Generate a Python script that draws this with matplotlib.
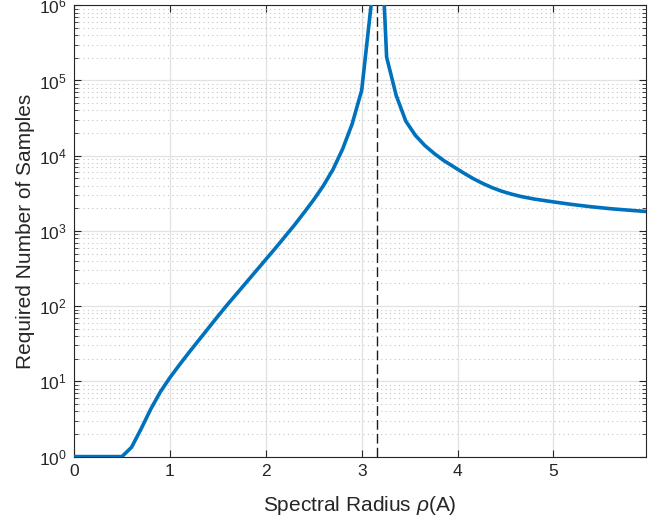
import numpy as np
import matplotlib
matplotlib.use("Agg")
import matplotlib.pyplot as plt
from matplotlib.ticker import LogLocator, NullFormatter, FixedLocator

# values (x = spectral radius, y = samples)
rho_left = [0.0, 0.1, 0.2, 0.3, 0.4, 0.5, 0.6, 0.7, 0.8, 0.9, 1.0, 1.1, 1.2, 1.3,
            1.4, 1.5, 1.6, 1.7, 1.8, 1.9, 2.0, 2.1, 2.2, 2.3, 2.4, 2.5, 2.6, 2.7,
            2.8, 2.9, 3.0, 3.1]
n_left = [1, 1, 1, 1, 1, 1, 1.33, 2.34, 4.27, 7.24, 11.2, 16.6, 24.3, 35.1,
          50.7, 73.3, 105, 148, 209, 295, 417, 589, 841, 1202, 1758, 2600, 3981, 6531,
          12160, 26300, 74100, 1.05e6]
rho_right = [3.2, 3.26, 3.36, 3.46, 3.56, 3.66, 3.76, 3.86, 3.96, 4.06, 4.16, 4.26,
             4.36, 4.46, 4.56, 4.66, 4.8, 5.0, 5.2, 5.4, 5.6, 5.8, 5.97]
n_right = [1e7, 2.04e5, 63100, 28800, 18600, 13600, 10600, 8550, 7110, 5920, 4980, 4290,
           3760, 3370, 3090, 2870, 2650, 2430, 2240, 2090, 1970, 1880, 1810]
rho_crit = np.sqrt(10)

plt.rcParams['font.family'] = ['Liberation Sans', 'DejaVu Sans']
plt.rcParams['mathtext.fontset'] = 'custom'
plt.rcParams['mathtext.rm'] = 'Liberation Sans'
plt.rcParams['mathtext.it'] = 'Liberation Sans:italic'

txt = '#262626'
fig = plt.figure(figsize=(6.55, 5.23), dpi=100)
ax = fig.add_axes([0.113, 0.127, 0.874, 0.863])

rho = rho_left + rho_right
n = n_left + n_right
ax.plot(rho, n, color='#0072BD', lw=2.6, zorder=3)
ax.axvline(rho_crit, color='#1a1a1a', lw=1.0, dashes=(7, 3), zorder=2)

ax.set_yscale('log')
ax.set_xlim(0, 5.97)
ax.set_ylim(1, 1e6)
ax.xaxis.set_major_locator(FixedLocator([0, 1, 2, 3, 4, 5]))
ax.yaxis.set_major_locator(LogLocator(base=10, numticks=10))
ax.yaxis.set_minor_locator(LogLocator(base=10, subs=np.arange(2, 10), numticks=20))
ax.yaxis.set_minor_formatter(NullFormatter())

ax.grid(True, which='major', color='#e2e2e2', lw=0.9, zorder=0)
ax.grid(True, which='minor', axis='y', color='#c4c4c4', lw=0.8, ls=(0, (1, 3)), zorder=0)
ax.set_axisbelow(True)

ax.tick_params(which='both', direction='in', top=True, right=True, colors=txt,
               labelsize=12.5, pad=5)
ax.tick_params(which='major', length=5)
ax.tick_params(which='minor', length=3)
for s in ax.spines.values():
    s.set_color(txt)
    s.set_linewidth(0.8)

ax.set_xlabel(r'Spectral Radius $\rho$(A)', fontsize=15, color=txt, labelpad=11)
ax.set_ylabel('Required Number of Samples', fontsize=15, color=txt, labelpad=3)

fig.savefig('out.png', dpi=100)
